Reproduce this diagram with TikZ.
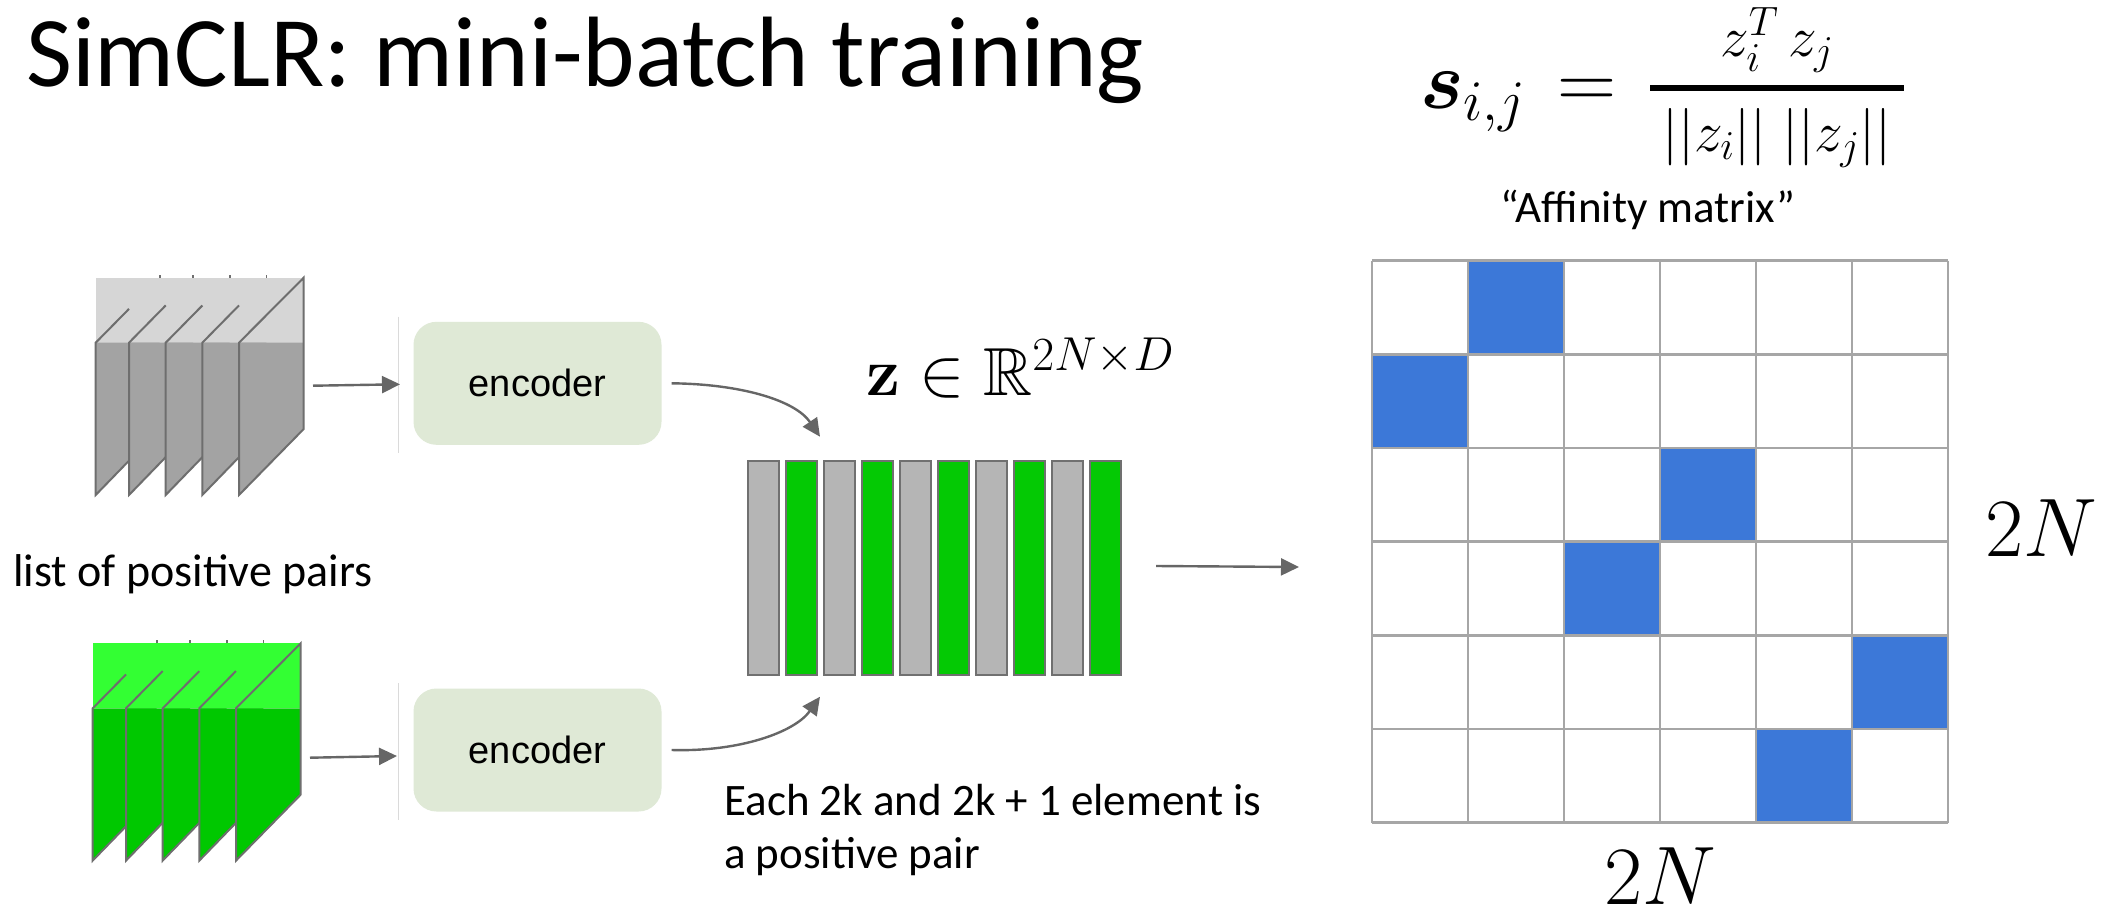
\RequirePackage{fix-cm}
\documentclass[tikz,border=0pt]{standalone}
\usepackage{amsmath,amssymb}
\usepackage[no-math]{fontspec}
\setmainfont{Carlito}
\newfontfamily\encfont{Liberation Sans}
\usetikzlibrary{arrows.meta}

\definecolor{slabline}{HTML}{6E6E6E}
\definecolor{graydark}{HTML}{A3A3A3}
\definecolor{graylight}{HTML}{D6D6D6}
\definecolor{greendark}{HTML}{00C800}
\definecolor{greenlight}{HTML}{33FF33}
\definecolor{encfill}{HTML}{DFE9D6}
\definecolor{bargray}{HTML}{B5B5B5}
\definecolor{bargreen}{HTML}{04C904}
\definecolor{barline}{HTML}{707070}
\definecolor{gridline}{HTML}{A6A6A6}
\definecolor{affblue}{HTML}{3C78D8}
\definecolor{arrowgray}{HTML}{666666}
\definecolor{guide}{HTML}{DADADA}

\tikzset{
  slabedge/.style={draw=slabline, line width=2pt, line join=miter},
  encbox/.style={fill=encfill, rounded corners=23pt, minimum width=248pt,
    minimum height=123pt, inner sep=0pt, font=\encfont\fontsize{38}{44}\selectfont},
  barcell/.style={draw=barline, line width=2pt, minimum width=31pt,
    minimum height=214pt, inner sep=0pt, anchor=north west},
  flow/.style={draw=arrowgray, line width=2.4pt, -{Triangle[length=18pt,width=17pt]}},
  caption/.style={inner sep=0pt, font=\fontsize{45}{53}\selectfont},
  bigmath/.style={inner sep=0pt}
}

\begin{document}
\begin{tikzpicture}[x=1pt,y=-1pt]
\useasboundingbox[fill=white] (0,0) rectangle (2113,911);

% title
\node[inner sep=0pt, anchor=base west, font=\fontsize{100}{112}\selectfont]
  (title) at (26,86) {SimCLR: mini-batch training};

% two stacks of slabs (views of the batch)
\foreach \ox/\oy/\lt/\dk in {0/0/graylight/graydark, -3/365.6/greenlight/greendark}{
  \begin{scope}[shift={(\ox,\oy)}]
    \fill[\lt] (95.7,277.7) rectangle (303.7,342.7);
    \foreach \x in {95.7,129,165.7,202.3}
      \draw[slabline, line width=1.6pt] (\x+64,277.7) -- (\x+64,274.5);
    \foreach \x/\n in {95.7/129, 129/165.7, 165.7/202.3, 202.3/239}{
      \fill[\dk] (\x,342.7) -- (\x+64,342.7) -- (\x+64,429) -- (\x,495) -- cycle;
      \draw[slabedge] ({\n},{342.7-(\n-\x)*65/64}) -- (\x,342.7) -- (\x,495)
        -- (\x+64,429);
    }
    \fill[\dk] (239,342.7) -- (303.7,342.7) -- (303.7,429) -- (239,495) -- cycle;
    \draw[slabedge] (239,495) -- (239,342.7) -- (303.7,277.7) -- (303.7,429) -- cycle;
  \end{scope}
}

\node[caption, anchor=base west, font=\fontsize{46}{53}\selectfont]
  (pairs) at (13,586.7) {list of positive pairs};

% thin guide lines in front of the encoders
\draw[guide, line width=1pt] (398.5,316.7) -- (398.5,453.3);
\draw[guide, line width=1pt] (398.5,683) -- (398.5,820);

% encoders
\node[encbox] (enc1) at (537.5,383.3) {encoder};
\node[encbox] (enc2) at (537.5,750) {encoder};

\coordinate (in1s) at (313,385.7);
\coordinate (in1e) at (400,384.3);
\coordinate (in2s) at (310,757.7);
\coordinate (in2e) at (397,756);
\draw[flow] (in1s) -- (in1e);
\draw[flow] (in2s) -- (in2e);

% embedding vector z
\foreach \k/\c in {1/bargray,2/bargreen,3/bargray,4/bargreen,5/bargray,
                   6/bargreen,7/bargray,8/bargreen,9/bargray,10/bargreen}
  \node[barcell, fill=\c] (b\k) at ({746.7+38*(\k-1)},459.5) {};

\coordinate (o1) at ([xshift=10pt]enc1.east);
\coordinate (t1) at (820,436.7);
\coordinate (o2) at ([xshift=10pt]enc2.east);
\coordinate (t2) at (820,696.7);
\draw[flow] (o1) .. controls (740,384) and (795,400) .. (t1);
\draw[flow] (o2) .. controls (740,752) and (795,732) .. (t2);

\node[bigmath, anchor=base west, font=\fontsize{68}{82}\selectfont]
  (zdef) at (866,395) {$\mathbf{z}\in\mathbb{R}^{2N\times D}$};

\node[caption, anchor=base west] (note1) at (724,815) {Each 2k and 2k + 1 element is};
\node[caption, anchor=base west] (note2) at (724,868) {a positive pair};

% affinity matrix
\node[inner sep=0pt, minimum width=576pt, minimum height=562pt, anchor=north west]
  (aff) at (1372,260.7) {};
\foreach \r/\c in {1/2,2/1,3/4,4/3,5/6,6/5}
  \fill[affblue] ({1372+(\c-1)*96},{260.7+(\r-1)*93.67}) rectangle ++(96,93.67);
\foreach \k in {0,...,6}{
  \draw[gridline, line width=2.5pt] ({1372+\k*96},260.7) -- ({1372+\k*96},822.7);
  \draw[gridline, line width=2.5pt] (1372,{260.7+\k*93.67}) -- (1948,{260.7+\k*93.67});
}

\coordinate (zs) at (1156,566);
\coordinate (ze) at (1299,567);
\draw[flow] (zs) -- (ze);

\node[bigmath, anchor=base, font=\fontsize{83}{96}\selectfont]
  (colN) at (1660,904) {$2N$};
\node[bigmath, anchor=base west, font=\fontsize{83}{96}\selectfont]
  (rowN) at (1985,556.7) {$2N$};

% similarity definition
\node[bigmath, anchor=base west, font=\fontsize{82}{96}\selectfont]
  (sim) at (1420,108.5)
  {$\boldsymbol{s}_{i,j} \mkern2mu=\mkern2mu
    \genfrac{}{}{6pt}{1}{\rule[-23pt]{0pt}{0pt}z_i^T\, z_j}
      {\rule{0pt}{54pt}\mkern4mu ||z_i||\;||z_j||\mkern4mu}$};
\node[caption, anchor=base] (afflabel) at (1648,222.5) {“Affinity matrix”};

\end{tikzpicture}
\end{document}
